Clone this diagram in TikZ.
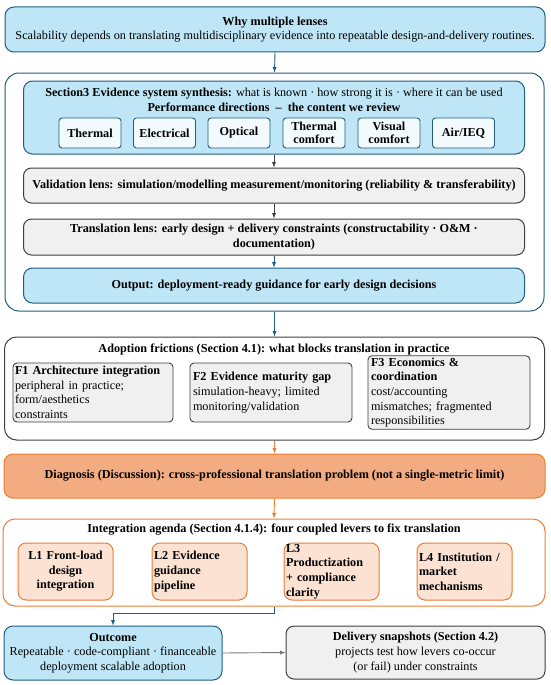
\documentclass[tikz,border=0pt]{standalone}
\usepackage{fontspec}
\setmainfont{Liberation Serif}
\definecolor{lensblue}{RGB}{31,94,128}
\definecolor{lensfill}{RGB}{191,230,246}
\definecolor{perffill}{RGB}{242,250,254}
\definecolor{frgray}{RGB}{64,64,64}
\definecolor{frfill}{RGB}{240,240,240}
\definecolor{agorange}{RGB}{237,125,49}
\definecolor{dgfill}{RGB}{243,172,130}
\definecolor{lvfill}{RGB}{251,226,211}
\definecolor{outgray}{RGB}{120,120,120}
\begin{document}
\begin{tikzpicture}[x=1pt,y=-1pt,
	every node/.style={font=\fontsize{12.2}{14.6}\selectfont,inner sep=2pt},
	bluebox/.style={draw=lensblue,fill=lensfill,line width=1pt,rounded corners=9pt,align=center},
	bluecont/.style={draw=lensblue,fill=white,line width=1pt,rounded corners=14pt},
	perfbox/.style={draw=lensblue,fill=perffill,line width=0.9pt,rounded corners=3pt,minimum width=62pt,minimum height=30pt,inner sep=0pt,align=center,font=\fontsize{12.2}{13.5}\selectfont\bfseries},
	graybox/.style={draw=frgray,fill=frfill,line width=1pt,rounded corners=8pt,align=center},
	graycont/.style={draw=frgray,fill=white,line width=1pt,rounded corners=12pt},
	fricbox/.style={draw=frgray,fill=frfill,line width=0.9pt,rounded corners=4pt,align=left},
	orangebox/.style={draw=agorange,fill=dgfill,line width=1pt,rounded corners=9pt,align=center},
	orangecont/.style={draw=agorange,fill=white,line width=1pt,rounded corners=12pt},
	leverbox/.style={draw=agorange,fill=lvfill,line width=1pt,rounded corners=8pt,minimum width=95pt,minimum height=57pt,text width=91pt,inner sep=0pt,font=\fontsize{12.2}{14.6}\selectfont\bfseries},
	arr/.style={->,>=latex,line width=0.9pt}]
	\useasboundingbox (0,0) rectangle (550,685);
	% top part: lenses
	\node[bluebox,minimum width=540pt,minimum height=45pt] (why) at (275,29.5) {\textbf{Why multiple lenses}\\Scalability depends on translating multidisciplinary evidence into repeatable design-and-delivery routines.};
	\node[bluecont,minimum width=539pt,minimum height=238pt] (cont) at (274.5,192) {};
	\node[bluebox,minimum width=501pt,minimum height=73pt] (sec3) at (274,117.5) {};
	\node[align=center] (sec3t) at (274,100) {\textbf{Section3 Evidence system synthesis:} what is known · how strong it is · where it can be used\\\textbf{Performance directions\enspace–\enspace the content we review}};
	\foreach \i/\x/\t in {1/90/Thermal,2/164.5/Electrical,3/239/Optical,4/314/{Thermal\\comfort},5/389/{Visual\\comfort},6/463.5/{Air/IEQ}}
	\node[perfbox] (p\i) at (\x,133) {\t};
	\node[graybox,minimum width=501pt,minimum height=35pt,font=\fontsize{12.2}{14.6}\selectfont\bfseries] (valid) at (274,185.5) {Validation lens: simulation/modelling measurement/monitoring (reliability \& transferability)};
	\node[graybox,minimum width=501pt,minimum height=36pt,font=\fontsize{12.2}{14.6}\selectfont\bfseries] (transl) at (274,237) {Translation lens: early design + delivery constraints (constructability · O\&M ·\\documentation)};
	\node[bluebox,minimum width=501pt,minimum height=35pt,font=\fontsize{12.2}{14.6}\selectfont\bfseries] (outp) at (274,285.5) {Output: deployment-ready guidance for early design decisions};
	% frictions
	\node[graycont,minimum width=540pt,minimum height=103pt] (adopt) at (274.5,388.5) {};
	\node (adoptt) at (274,349) {\textbf{Adoption frictions (Section 4.1): what blocks translation in practice}};
	\node[fricbox,minimum width=160pt,minimum height=59pt,text width=156pt] (f1) at (93,392.5) {\textbf{F1 Architecture integration}\\peripheral in practice;\\form/aesthetics\\constraints};
	\node[fricbox,minimum width=162pt,minimum height=59pt,text width=156pt] (f2) at (271,392.5) {\textbf{F2 Evidence maturity gap}\\simulation-heavy; limited\\monitoring/validation};
	\node[fricbox,minimum width=162pt,minimum height=73pt,text width=156pt] (f3) at (449,392.5) {\textbf{F3 Economics \&}\\\textbf{coordination}\\cost/accounting\\mismatches; fragmented\\responsibilities};
	\node[orangebox,minimum width=541pt,minimum height=44pt,font=\fontsize{12.2}{14.6}\selectfont\bfseries] (diag) at (274.5,476) {Diagnosis (Discussion): cross-professional translation problem (not a single-metric limit)};
	% levers
	\node[orangecont,minimum width=542pt,minimum height=87pt] (integ) at (274,562.5) {};
	\node (integt) at (274,530) {\textbf{Integration agenda (Section 4.1.4): four coupled levers to fix translation}};
	\node[leverbox,align=center] (l1) at (65.5,571.5) {L1 Front-load\\design\\integration};
	\node[leverbox,align=left] (l2) at (199.5,571.5) {L2 Evidence\\guidance\\pipeline};
	\node[leverbox,align=left] (l3) at (331.5,571.5) {L3\\Productization\\+ compliance\\clarity};
	\node[leverbox,align=left] (l4) at (464.5,571.5) {L4 Institution /\\market\\mechanisms};
	% bottom row
	\node[bluebox,minimum width=218pt,minimum height=54pt] (outc) at (113,653) {\textbf{Outcome}\\Repeatable · code-compliant · financeable\\deployment scalable adoption};
	\node[graybox,minimum width=259pt,minimum height=53pt] (deliv) at (415.5,652.5) {\textbf{Delivery snapshots (Section 4.2)}\\projects test how levers co-occur\\(or fail) under constraints};
	% connectors
	\draw[arr,lensblue] (why.south) -- (cont.north);
	\draw[arr,frgray] (sec3.south) -- (valid.north);
	\draw[arr,frgray] (valid.south) -- (transl.north);
	\draw[arr,lensblue] (transl.south) -- (outp.north);
	\draw[arr,lensblue] (cont.south) -- (adopt.north);
	\draw[arr,agorange] (adopt.south) -- (diag.north);
	\draw[arr,agorange] (diag.south) -- (integ.north);
	\draw[arr,lensblue] (integ.south) -- ++(0,7) -| (outc.north);
	\draw[arr,outgray] (outc.east) -- (deliv.west);
\end{tikzpicture}
\end{document}
